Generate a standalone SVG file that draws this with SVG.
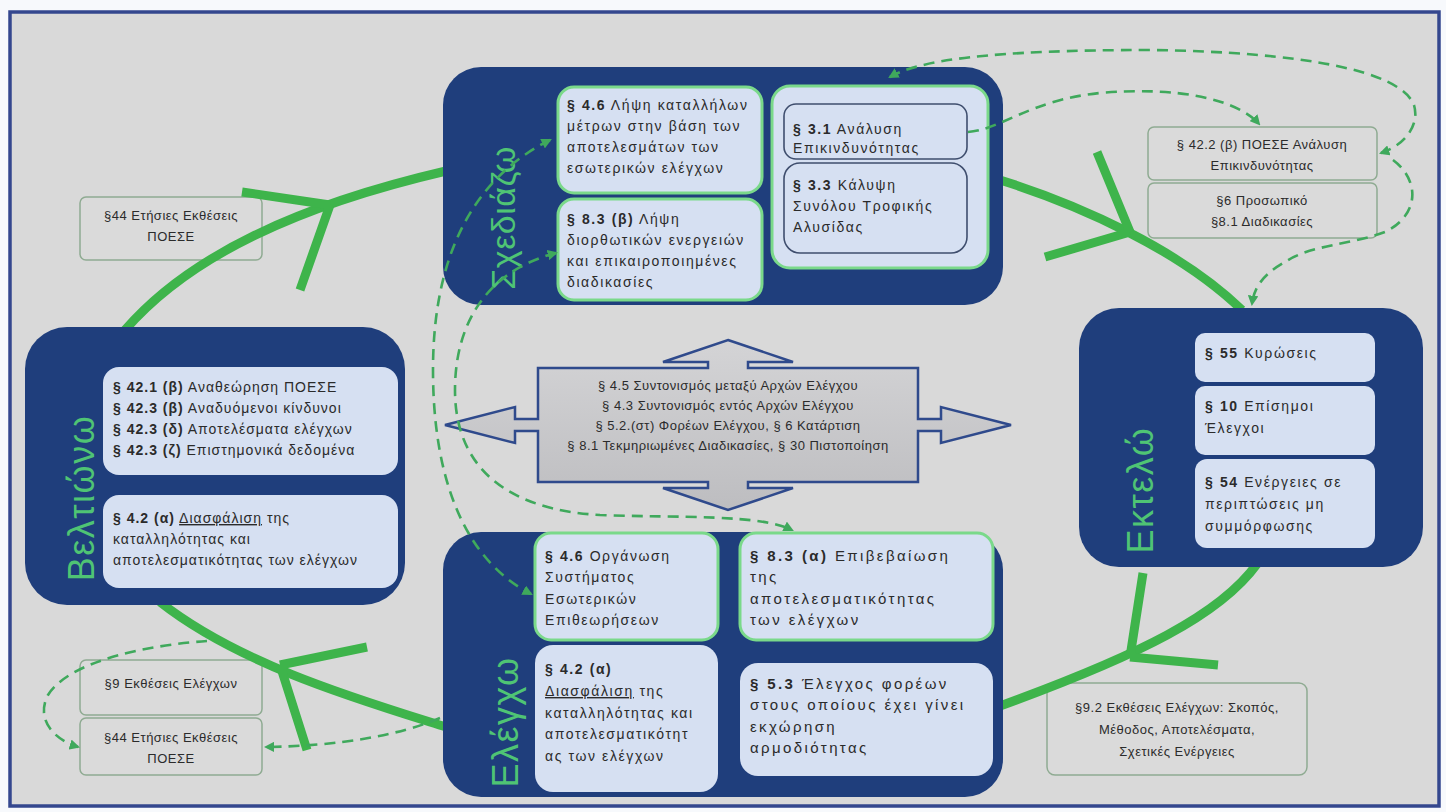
<svg xmlns="http://www.w3.org/2000/svg" width="1446" height="812" viewBox="0 0 1446 812">
<defs>
<style>
.t{font-family:"Liberation Sans",Arial,sans-serif;font-size:14px;fill:#2b2b2b;letter-spacing:1px}
.w{letter-spacing:1.6px}
.x{font-size:15px;letter-spacing:2.4px}
.s{font-family:"Liberation Sans",Arial,sans-serif;font-size:13px;fill:#2b2b2b;letter-spacing:0.5px}
.b{font-weight:bold}
.u{text-decoration:underline}
.lbl{font-family:"Liberation Sans",Arial,sans-serif;font-size:36px;fill:#4fc474;letter-spacing:1.5px}
.big{fill:#1f3e7c}
.sub{fill:#d6e0f2}
.glow{fill:#d6e0f2;stroke:#7ad98a;stroke-width:3}
.inner{fill:#d6e0f2;stroke:#3f4e6e;stroke-width:1.6}
.note{fill:#dadada;stroke:#8fab92;stroke-width:1.5}
.arc{fill:none;stroke:#3eb44b;stroke-width:9;stroke-linecap:butt}
.dash{fill:none;stroke:#3fa95c;stroke-width:2.6;stroke-dasharray:11 7}
</style>
<marker id="ah" viewBox="0 0 10 10" refX="8" refY="5" markerWidth="4" markerHeight="4" orient="auto-start-reverse" markerUnits="strokeWidth">
<path d="M0,0 L10,5 L0,10 Z" fill="#3fa95c"/>
</marker>
<linearGradient id="cg" x1="0" y1="0" x2="0" y2="1">
<stop offset="0" stop-color="#d4d4d6"/>
<stop offset="1" stop-color="#bdbdc0"/>
</linearGradient>
</defs>
<rect x="0" y="0" width="1446" height="812" fill="#f7f9fc"/>
<rect x="10" y="12" width="1429" height="794" fill="#d9d9d9" stroke="#34478e" stroke-width="3.5"/>

<g id="notes">
<g id="note-44-top">
<rect class="note" x="80" y="197" width="182" height="63" rx="6"/>
<text class="s" x="171" y="220" text-anchor="middle">§44 Ετήσιες Εκθέσεις</text>
<text class="s" x="171" y="241" text-anchor="middle">ΠΟΕΣΕ</text>
</g>
<g id="note-42-2">
<rect class="note" x="1148" y="127" width="229" height="53" rx="6"/>
<text class="s" x="1262" y="149" text-anchor="middle">§ 42.2 (β) ΠΟΕΣΕ Ανάλυση</text>
<text class="s" x="1262" y="170" text-anchor="middle">Επικινδυνότητας</text>
</g>
<g id="note-6">
<rect class="note" x="1148" y="183" width="229" height="55" rx="6"/>
<text class="s" x="1262" y="205" text-anchor="middle">§6 Προσωπικό</text>
<text class="s" x="1262" y="226" text-anchor="middle">§8.1 Διαδικασίες</text>
</g>
<g id="note-9">
<rect class="note" x="80" y="660" width="182" height="55" rx="6"/>
<text class="s" x="171" y="688" text-anchor="middle">§9 Εκθέσεις Ελέγχων</text>
</g>
<g id="note-44-bottom">
<rect class="note" x="80" y="718" width="182" height="57" rx="6"/>
<text class="s" x="171" y="742" text-anchor="middle">§44 Ετήσιες Εκθέσεις</text>
<text class="s" x="171" y="763" text-anchor="middle">ΠΟΕΣΕ</text>
</g>
<g id="note-9-2">
<rect class="note" x="1047" y="683" width="260" height="92" rx="8"/>
<text class="s" x="1177" y="712" text-anchor="middle">§9.2 Εκθέσεις Ελέγχων: Σκοπός,</text>
<text class="s" x="1177" y="734" text-anchor="middle">Μέθοδος, Αποτελέσματα,</text>
<text class="s" x="1177" y="756" text-anchor="middle">Σχετικές Ενέργειες</text>
</g>
</g>

<g id="cycle-arrows">
<path class="arc" d="M125,330 C190,255 300,205 446,171"/>
<path class="arc" d="M330,205 L242,192 M330,205 L300,290"/>
<path class="arc" d="M1000,180 C1080,205 1180,250 1242,310"/>
<path class="arc" d="M1130,232 L1097,152 M1130,232 L1045,257"/>
<path class="arc" d="M1257,564 C1220,615 1140,655 1000,706"/>
<path class="arc" d="M1130,657 L1143,573 M1130,657 L1218,665"/>
<path class="arc" d="M446,727 C360,700 240,665 160,602"/>
<path class="arc" d="M280,665 L367,647 M280,665 L307,750"/>
</g>

<g id="plan">
<rect class="big" x="443" y="67" width="560" height="238" rx="38"/>
<text class="lbl" transform="translate(515,218) rotate(-90)" text-anchor="middle" style="font-size:34px;letter-spacing:0.5px">Σχεδιάζω</text>
<g id="plan-4-6">
<rect class="glow" x="558" y="87" width="204" height="106" rx="16"/>
<text class="t w" x="567" y="110"><tspan class="b">§ 4.6</tspan> Λήψη καταλλήλων</text>
<text class="t w" x="567" y="131">μέτρων στην βάση των</text>
<text class="t w" x="567" y="152">αποτελεσμάτων των</text>
<text class="t w" x="567" y="173">εσωτερικών ελέγχων</text>
</g>
<g id="plan-8-3b">
<rect class="glow" x="558" y="199" width="204" height="101" rx="16"/>
<text class="t w" x="567" y="224"><tspan class="b">§ 8.3 (β)</tspan> Λήψη</text>
<text class="t w" x="567" y="245">διορθωτικών ενεργειών</text>
<text class="t w" x="567" y="266">και επικαιροποιημένες</text>
<text class="t w" x="567" y="287">διαδικασίες</text>
</g>
<g id="plan-risk">
<rect class="glow" x="772" y="86" width="216" height="182" rx="18"/>
<g id="plan-3-1">
<rect class="inner" x="784" y="104" width="183" height="55" rx="12"/>
<text class="t w" x="793" y="134"><tspan class="b">§ 3.1</tspan> Ανάλυση</text>
<text class="t w" x="793" y="153">Επικινδυνότητας</text>
</g>
<g id="plan-3-3">
<rect class="inner" x="784" y="163" width="183" height="90" rx="16"/>
<text class="t w" x="793" y="190"><tspan class="b">§ 3.3</tspan> Κάλυψη</text>
<text class="t w" x="793" y="211">Συνόλου Τροφικής</text>
<text class="t w" x="793" y="232">Αλυσίδας</text>
</g>
</g>
</g>

<g id="do">
<rect class="big" x="1079" y="308" width="344" height="259" rx="40"/>
<text class="lbl" transform="translate(1153,490) rotate(-90)" text-anchor="middle">Εκτελώ</text>
<g id="do-55">
<rect class="sub" x="1195" y="333" width="180" height="49" rx="10"/>
<text class="t w" x="1205" y="358"><tspan class="b">§ 55</tspan> Κυρώσεις</text>
</g>
<g id="do-10">
<rect class="sub" x="1195" y="386" width="180" height="69" rx="10"/>
<text class="t w" x="1205" y="411"><tspan class="b">§ 10</tspan> Επίσημοι</text>
<text class="t w" x="1205" y="433">Έλεγχοι</text>
</g>
<g id="do-54">
<rect class="sub" x="1195" y="459" width="180" height="89" rx="12"/>
<text class="t w" x="1205" y="487"><tspan class="b">§ 54</tspan> Ενέργειες σε</text>
<text class="t w" x="1205" y="509">περιπτώσεις μη</text>
<text class="t w" x="1205" y="531">συμμόρφωσης</text>
</g>
</g>

<g id="act">
<rect class="big" x="25" y="327" width="380" height="278" rx="42"/>
<text class="lbl" transform="translate(94,498) rotate(-90)" text-anchor="middle">Βελτιώνω</text>
<g id="act-42">
<rect class="sub" x="103" y="367" width="295" height="108" rx="16"/>
<text class="t" x="113" y="392"><tspan class="b">§ 42.1 (β)</tspan> Αναθεώρηση ΠΟΕΣΕ</text>
<text class="t" x="113" y="413"><tspan class="b">§ 42.3 (β)</tspan> Αναδυόμενοι κίνδυνοι</text>
<text class="t" x="113" y="434"><tspan class="b">§ 42.3 (δ)</tspan> Αποτελέσματα ελέγχων</text>
<text class="t" x="113" y="455"><tspan class="b">§ 42.3 (ζ)</tspan> Επιστημονικά δεδομένα</text>
</g>
<g id="act-4-2">
<rect class="sub" x="103" y="495" width="295" height="93" rx="16"/>
<text class="t" x="113" y="523"><tspan class="b">§ 4.2 (α)</tspan> <tspan class="u">Διασφάλιση</tspan> της</text>
<text class="t" x="113" y="544">καταλληλότητας και</text>
<text class="t" x="113" y="565">αποτελεσματικότητας των ελέγχων</text>
</g>
</g>

<g id="check">
<rect class="big" x="443" y="532" width="560" height="265" rx="38"/>
<text class="lbl" transform="translate(518,722) rotate(-90)" text-anchor="middle">Ελέγχω</text>
<g id="check-4-6">
<rect class="glow" x="535" y="533" width="183" height="107" rx="16"/>
<text class="t w" x="545" y="561"><tspan class="b">§ 4.6</tspan> Οργάνωση</text>
<text class="t w" x="545" y="582">Συστήματος</text>
<text class="t w" x="545" y="604">Εσωτερικών</text>
<text class="t w" x="545" y="625">Επιθεωρήσεων</text>
</g>
<g id="check-8-3a">
<rect class="glow" x="740" y="533" width="253" height="107" rx="16"/>
<text class="t x" x="750" y="561"><tspan class="b">§ 8.3 (α)</tspan> Επιβεβαίωση</text>
<text class="t x" x="750" y="582">της</text>
<text class="t x" x="750" y="604">αποτελεσματικότητας</text>
<text class="t x" x="750" y="625">των ελέγχων</text>
</g>
<g id="check-4-2">
<rect class="sub" x="535" y="645" width="183" height="147" rx="18"/>
<text class="t w" x="545" y="674"><tspan class="b">§ 4.2 (α)</tspan></text>
<text class="t w" x="545" y="696"><tspan class="u">Διασφάλιση</tspan> της</text>
<text class="t w" x="545" y="718">καταλληλότητας και</text>
<text class="t w" x="545" y="739">αποτελεσματικότητ</text>
<text class="t w" x="545" y="761">ας των ελέγχων</text>
</g>
<g id="check-5-3">
<rect class="sub" x="740" y="663" width="253" height="113" rx="18"/>
<text class="t x" x="750" y="689"><tspan class="b">§ 5.3</tspan> Έλεγχος φορέων</text>
<text class="t x" x="750" y="710">στους οποίους έχει γίνει</text>
<text class="t x" x="750" y="732">εκχώρηση</text>
<text class="t x" x="750" y="753">αρμοδιότητας</text>
</g>
</g>

<g id="coordination">
<path d="M728,340 L793,362 L748,362 L748,368 L918,368 L918,419 L941,419 L941,407 L1011,425 L941,443 L941,431 L918,431 L918,482 L748,482 L748,488 L793,488 L728,510 L663,488 L708,488 L708,482 L538,482 L538,431 L515,431 L515,443 L445,425 L515,407 L515,419 L538,419 L538,368 L708,368 L708,362 L663,362 Z" fill="url(#cg)" stroke="#2f4a8c" stroke-width="2.5" stroke-linejoin="miter"/>
<text class="s" x="728" y="390" text-anchor="middle">§ 4.5 Συντονισμός μεταξύ Αρχών Ελέγχου</text>
<text class="s" x="728" y="410" text-anchor="middle">§ 4.3 Συντονισμός εντός Αρχών Ελέγχου</text>
<text class="s" x="728" y="430" text-anchor="middle">§ 5.2.(στ) Φορέων Ελέγχου, § 6 Κατάρτιση</text>
<text class="s" x="728" y="450" text-anchor="middle">§ 8.1 Τεκμηριωμένες Διαδικασίες, § 30 Πιστοποίηση</text>
</g>

<g id="connectors">
<path class="dash" d="M968,132 C1000,130 1030,100 1100,93 C1180,86 1238,100 1259,124" marker-end="url(#ah)"/>
<path class="dash" d="M890,77 C920,60 990,50 1150,50 C1300,52 1400,70 1414,105 C1420,125 1405,145 1381,153" marker-start="url(#ah)" marker-end="url(#ah)"/>
<path class="dash" d="M1393,160 C1420,180 1420,215 1385,232 C1350,245 1310,245 1285,262 C1262,275 1254,288 1252,304" marker-end="url(#ah)"/>
<path class="dash" d="M550,140 C470,180 433,260 433,370 C433,480 465,560 531,594" marker-start="url(#ah)" marker-end="url(#ah)"/>
<path class="dash" d="M556,253 C490,270 455,320 455,390 C455,470 510,510 600,515 C680,518 760,514 792,530" marker-start="url(#ah)" marker-end="url(#ah)"/>
<path class="dash" d="M440,718 C400,735 340,746 266,747" marker-end="url(#ah)"/>
<path class="dash" d="M207,641 C150,645 70,660 48,695 C35,720 55,740 78,747" marker-end="url(#ah)"/>
</g>
</svg>
